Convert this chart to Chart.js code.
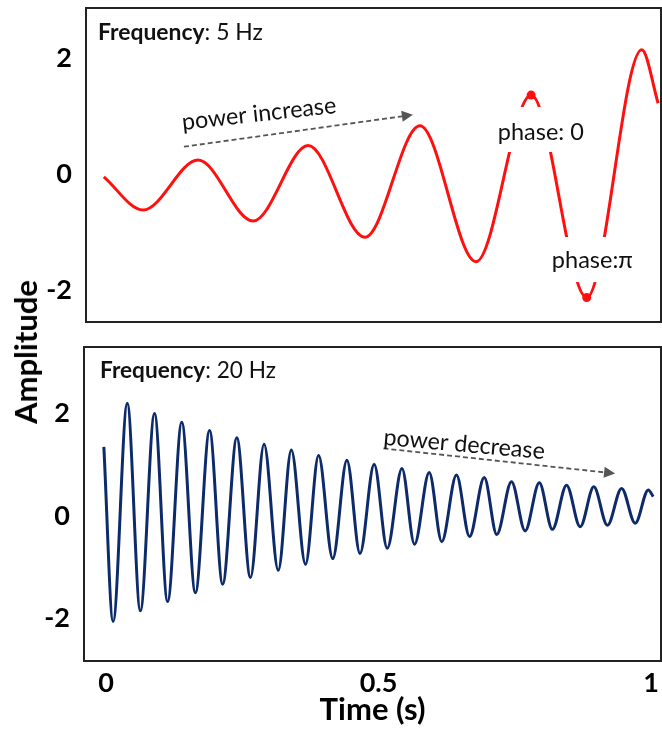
<!DOCTYPE html>
<html><head><meta charset="utf-8">
<script src="https://cdn.jsdelivr.net/npm/chart.js@4/dist/chart.umd.min.js"></script>
<style>
html,body{margin:0;padding:0;background:#fff;}
#wrap{position:relative;width:662px;height:729px;overflow:hidden;background:#fff;}
#c1{position:absolute;left:0;top:0;}
#c2{position:absolute;left:0;top:330px;}
#ylab{position:absolute;left:25px;top:352px;transform:translate(-50%,-50%) rotate(-90deg);font:bold 31px Lato;color:#000;white-space:nowrap;}
</style></head>
<body><div id="wrap">
<canvas id="c1" width="662" height="330"></canvas>
<canvas id="c2" width="662" height="399"></canvas>
<div id="ylab">Amplitude</div>
</div>
<script>
// ---- data ----
const timeTop = [-0.004, 0.068, 0.169, 0.270, 0.371, 0.475, 0.576, 0.679, 0.780, 0.882, 0.983, 1.013];
const ampTop  = [-0.05, -0.62, 0.24, -0.81, 0.49, -1.09, 0.83, -1.51, 1.36, -2.13, 2.14, 1.22];
const phaseTime = [0.780, 0.882];
const phaseAmp  = [1.36, -2.13];
const timeBottom = [-0.004, 0.013, 0.039, 0.063, 0.089, 0.113, 0.139, 0.164, 0.190, 0.214, 0.240, 0.265, 0.290, 0.316, 0.340, 0.366, 0.390, 0.416, 0.442, 0.466, 0.492, 0.516, 0.543, 0.566, 0.593, 0.616, 0.643, 0.667, 0.694, 0.717, 0.744, 0.769, 0.795, 0.819, 0.845, 0.870, 0.895, 0.920, 0.946, 0.971, 0.995, 1.004];
const ampBottom  = [1.35, -2.06, 2.20, -1.85, 2.00, -1.67, 1.83, -1.50, 1.67, -1.33, 1.53, -1.20, 1.40, -1.06, 1.29, -0.94, 1.18, -0.83, 1.09, -0.73, 1.01, -0.63, 0.93, -0.55, 0.85, -0.50, 0.80, -0.40, 0.75, -0.36, 0.67, -0.29, 0.65, -0.26, 0.60, -0.21, 0.57, -0.18, 0.54, -0.14, 0.51, 0.38];
const yTicks = [-2, 0, 2];
const xTicks = [0, 0.5, 1];

const FONT = 'Lato';
const pts = (xs, ys) => xs.map((x, i) => ({x, y: ys[i]}));

function fitFont(ctx, text, width, weight) {
  ctx.font = weight + ' 20px ' + FONT;
  const w = ctx.measureText(text).width;
  return 20 * width / w;
}
function noPad(s) { s.paddingTop = 0; s.paddingBottom = 0; s.paddingLeft = 0; s.paddingRight = 0; }

const boxPlugin = {
  id: 'box',
  afterDraw(chart) {
    const {ctx, chartArea: a} = chart;
    ctx.save();
    ctx.strokeStyle = '#222';
    ctx.lineWidth = 2;
    ctx.strokeRect(a.left, a.top, a.right - a.left, a.bottom - a.top);
    ctx.restore();
  }
};

const notesPlugin = {
  id: 'notes',
  afterDatasetsDraw(chart, args, opts) {
    const ctx = chart.ctx, xs = chart.scales.x, ys = chart.scales.y, a = chart.chartArea;
    const X = v => xs.getPixelForValue(v), Y = v => ys.getPixelForValue(v);
    ctx.save();
    for (const it of (opts.items || [])) {
      if (it.kind === 'title') {
        ctx.font = 'bold 20px ' + FONT;
        const wb = ctx.measureText(it.bold).width;
        ctx.font = '400 20px ' + FONT;
        const wr = ctx.measureText(it.rest).width;
        const size = 20 * it.width / (wb + wr);
        ctx.fillStyle = '#111';
        ctx.textAlign = 'left'; ctx.textBaseline = 'alphabetic';
        ctx.font = 'bold ' + size + 'px ' + FONT;
        ctx.fillText(it.bold, a.left + it.dx, a.top + it.dy);
        const w1 = ctx.measureText(it.bold).width;
        ctx.font = '400 ' + size + 'px ' + FONT;
        ctx.fillText(it.rest, a.left + it.dx + w1, a.top + it.dy);
      } else if (it.kind === 'rtext') {
        const size = fitFont(ctx, it.text, it.width, '400');
        ctx.save();
        ctx.translate(X(it.t), Y(it.v));
        ctx.rotate(it.angle * Math.PI / 180);
        ctx.font = '400 ' + size + 'px ' + FONT;
        ctx.fillStyle = '#111';
        ctx.textAlign = 'left'; ctx.textBaseline = 'alphabetic';
        ctx.fillText(it.text, 0, 0);
        ctx.restore();
      } else if (it.kind === 'arrow') {
        const x0 = X(it.t0), y0 = Y(it.v0), x1 = X(it.t1), y1 = Y(it.v1);
        const ang = Math.atan2(y1 - y0, x1 - x0);
        const hl = 11, hw = 5.5;
        const bx = x1 - hl * Math.cos(ang), by = y1 - hl * Math.sin(ang);
        ctx.strokeStyle = '#555'; ctx.fillStyle = '#555';
        ctx.lineWidth = 1.8;
        ctx.setLineDash([5, 3]);
        ctx.beginPath(); ctx.moveTo(x0, y0); ctx.lineTo(bx, by); ctx.stroke();
        ctx.setLineDash([]);
        ctx.beginPath();
        ctx.moveTo(x1, y1);
        ctx.lineTo(bx + hw * Math.sin(ang), by - hw * Math.cos(ang));
        ctx.lineTo(bx - hw * Math.sin(ang), by + hw * Math.cos(ang));
        ctx.closePath(); ctx.fill();
      } else if (it.kind === 'mask') {
        ctx.fillStyle = '#fff';
        ctx.fillRect(X(it.t0), Y(it.v0), X(it.t1) - X(it.t0), Y(it.v1) - Y(it.v0));
        const size = fitFont(ctx, it.text, it.width, '400');
        ctx.font = '400 ' + size + 'px ' + FONT;
        ctx.fillStyle = '#111';
        ctx.textAlign = 'left'; ctx.textBaseline = 'alphabetic';
        ctx.fillText(it.text, X(it.tx), Y(it.vb));
      }
    }
    ctx.restore();
  }
};

const tickFont = {family: FONT, weight: 'bold', size: 27};

function yScale(min, max, width) {
  return {
    type: 'linear', min, max,
    afterBuildTicks: s => { s.ticks = yTicks.map(v => ({value: v})); },
    afterFit: s => { s.width = width; noPad(s); },
    grid: {display: false, drawTicks: false},
    border: {display: false},
    ticks: {font: tickFont, color: '#000', padding: 14, callback: v => String(v)}
  };
}

new Chart(document.getElementById('c1'), {
  type: 'line',
  data: {datasets: [
    {data: pts(timeTop, ampTop), borderColor: '#ff1010', borderWidth: 3, pointRadius: 0,
     cubicInterpolationMode: 'monotone', fill: false},
    {type: 'scatter', data: pts(phaseTime, phaseAmp), pointRadius: 4.5, backgroundColor: '#ff1010', borderWidth: 0}
  ]},
  options: {
    responsive: false, animation: false, events: [],
    layout: {padding: {left: 0, top: 8, right: 1, bottom: 8}, autoPadding: false},
    plugins: {
      legend: {display: false}, tooltip: {enabled: false},
      notes: {items: [
        {kind: 'title', bold: 'Frequency', rest: ': 5 Hz', width: 165, dx: 12, dy: 32},
        {kind: 'arrow', t0: 0.143, v0: 0.47, t1: 0.563, v1: 1.02},
        {kind: 'rtext', text: 'power increase', t: 0.141, v: 0.76, angle: -6.3, width: 155},
        {kind: 'mask', t0: 0.705, v0: 1.155, t1: 0.897, v1: 0.379, text: 'phase: 0', width: 86, tx: 0.719, vb: 0.586},
        {kind: 'mask', t0: 0.806, v0: -1.086, t1: 0.980, v1: -1.862, text: 'phase:\u03c0', width: 81, tx: 0.818, vb: -1.62}
      ]}
    },
    scales: {
      x: {type: 'linear', min: -0.0367, max: 1.0183, display: false, afterFit: noPad},
      y: yScale(-2.55, 2.86, 86)
    }
  },
  plugins: [notesPlugin, boxPlugin]
});

new Chart(document.getElementById('c2'), {
  type: 'line',
  data: {datasets: [
    {data: pts(timeBottom, ampBottom), borderColor: '#0d2a6a', borderWidth: 3, pointRadius: 0,
     cubicInterpolationMode: 'monotone', fill: false}
  ]},
  options: {
    responsive: false, animation: false, events: [],
    layout: {padding: {left: 0, top: 17, right: 1, bottom: 0}, autoPadding: false},
    plugins: {
      legend: {display: false}, tooltip: {enabled: false},
      notes: {items: [
        {kind: 'title', bold: 'Frequency', rest: ': 20 Hz', width: 176, dx: 16, dy: 31},
        {kind: 'arrow', t0: 0.509, v0: 1.32, t1: 0.934, v1: 0.83},
        {kind: 'rtext', text: 'power decrease', t: 0.508, v: 1.39, angle: 5, width: 162}
      ]}
    },
    scales: {
      x: {
        type: 'linear', min: -0.0404, max: 1.0183,
        afterBuildTicks: s => { s.ticks = xTicks.map(v => ({value: v})); },
        afterFit: s => { s.height = 68; noPad(s); },
        grid: {display: false, drawTicks: false},
        border: {display: false},
        ticks: {font: tickFont, color: '#000', padding: 6, maxRotation: 0, callback: v => String(v)},
        title: {display: true, text: 'Time (s)', font: {family: FONT, weight: 'bold', size: 31}, color: '#000', padding: {top: 0, bottom: 0}}
      },
      y: yScale(-2.83, 3.30, 84)
    }
  },
  plugins: [notesPlugin, boxPlugin]
});
</script>
</body></html>
